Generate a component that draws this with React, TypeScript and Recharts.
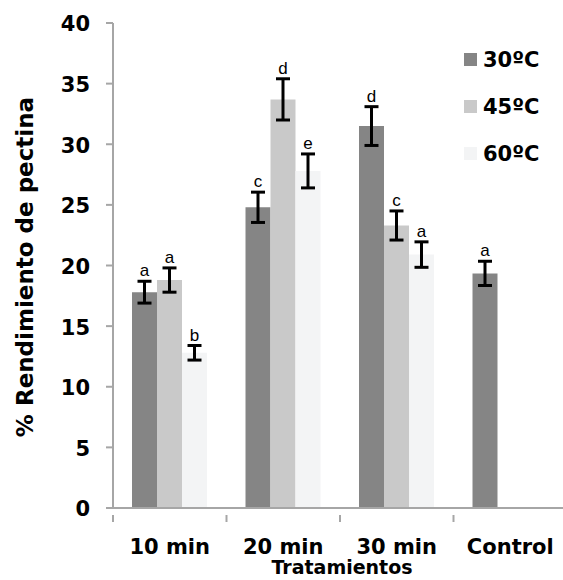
import { BarChart, Bar, XAxis, YAxis, ErrorBar, LabelList, Legend, Label } from "recharts";

const categories = ["10 min", "20 min", "30 min", "Control"];
const t30 = [17.8, 24.8, 31.5, 19.35];
const t45 = [18.8, 33.7, 23.3, null];
const t60 = [12.8, 27.8, 20.9, null];
const e30 = [0.9, 1.25, 1.6, 1.0];
const e45 = [1.0, 1.7, 1.2, null];
const e60 = [0.6, 1.4, 1.05, null];
const l30 = ["a", "c", "d", "a"];
const l45 = ["a", "d", "c", ""];
const l60 = ["b", "e", "a", ""];
const yTicks = [0, 5, 10, 15, 20, 25, 30, 35, 40];

const series = [
  { key: "t30", err: "e30", name: "30ºC", color: "#858585", errs: e30, letters: l30 },
  { key: "t45", err: "e45", name: "45ºC", color: "#c9c9c9", errs: e45, letters: l45 },
  { key: "t60", err: "e60", name: "60ºC", color: "#f3f4f5", errs: e60, letters: l60 },
];

const data = categories.map((c, i) => ({
  cat: c,
  t30: t30[i],
  t45: t45[i],
  t60: t60[i],
  e30: e30[i],
  e45: e45[i],
  e60: e60[i],
}));

const BOLD = "'DejaVu Sans', sans-serif";
const SMALL = "'Liberation Sans', Arial, sans-serif";
const AXIS = "#a6a6a6";
const CHART_W = 567;
const LEFT = 113;
const BAND = (CHART_W - LEFT) / categories.length;

const letterLabel = (errs: (number | null)[], letters: string[]) => (props: any) => {
  const { x, y, width, height, value, index } = props;
  if (value == null || !letters[index]) return null;
  const pxPerUnit = Number(height) / Number(value);
  const capY = Number(y) - (errs[index] ?? 0) * pxPerUnit;
  return (
    <text x={Number(x) + Number(width) / 2} y={capY - 5} textAnchor="middle" fontSize={17} fontFamily={SMALL} fill="#000">
      {letters[index]}
    </text>
  );
};

const XTick = (props: any) => {
  const { x, y, payload } = props;
  const bx = x - BAND / 2;
  return (
    <g>
      <line x1={bx} y1={y - 1} x2={bx} y2={y + 6} stroke={AXIS} strokeWidth={2} />
      <text x={x} y={y + 38} textAnchor="middle" fontSize={21} fontWeight="bold" fontFamily={BOLD} fill="#000">
        {payload.value}
      </text>
    </g>
  );
};

const LegendBox = () => (
  <div style={{ fontFamily: BOLD }}>
    {series.map((s) => (
      <div key={s.key} style={{ display: "flex", alignItems: "center", height: 47 }}>
        <div style={{ width: 13, height: 13, background: s.color, marginRight: 6 }} />
        <span style={{ fontSize: 21, fontWeight: "bold", color: "#000" }}>{s.name}</span>
      </div>
    ))}
  </div>
);

export default function App() {
  return (
    <div style={{ position: "absolute", left: 0, top: 0, width: 563, height: 580, overflow: "hidden", background: "#fff" }}>
      <BarChart width={CHART_W} height={580} data={data} margin={{ top: 23, right: 0, left: 0, bottom: 0 }} barGap={0} barSize={25}>
        <XAxis
          dataKey="cat"
          height={72}
          axisLine={{ stroke: AXIS, strokeWidth: 2 }}
          tickLine={false}
          tick={<XTick />}
          interval={0}
        >
          <Label
            content={() => (
              <text x={342} y={574} textAnchor="middle" fontSize={19} fontWeight="bold" fontFamily={BOLD} fill="#000">
                Tratamientos
              </text>
            )}
          />
        </XAxis>
        <YAxis
          width={LEFT}
          domain={[0, 40]}
          ticks={yTicks}
          interval={0}
          axisLine={{ stroke: AXIS, strokeWidth: 2 }}
          tickLine={{ stroke: AXIS, strokeWidth: 2 }}
          tickSize={7}
          tickMargin={16}
          tick={{ fontSize: 21, fontWeight: "bold", fontFamily: BOLD, fill: "#000", dy: 1 }}
        >
          <Label
            content={() => (
              <text
                x={33}
                y={267}
                transform="rotate(-90 33 267)"
                textAnchor="middle"
                fontSize={23}
                fontWeight="bold"
                fontFamily={BOLD}
                fill="#000"
              >
                % Rendimiento de pectina
              </text>
            )}
          />
        </YAxis>
        <Legend
          layout="vertical"
          align="center"
          verticalAlign="middle"
          content={<LegendBox />}
          wrapperStyle={{ left: 464, top: 36, width: 100, height: 150 }}
        />
        {series.map((s) => (
          <Bar key={s.key} dataKey={s.key} name={s.name} fill={s.color} isAnimationActive={false}>
            <ErrorBar dataKey={s.err} width={7} strokeWidth={3} stroke="#000" />
            <LabelList dataKey={s.key} content={letterLabel(s.errs, s.letters)} />
          </Bar>
        ))}
      </BarChart>
    </div>
  );
}
